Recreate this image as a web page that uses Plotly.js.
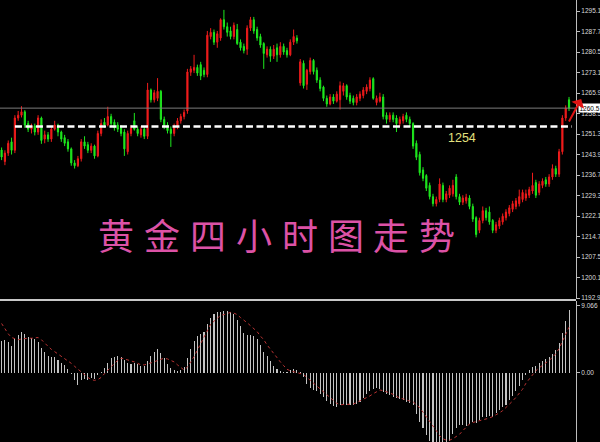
<!DOCTYPE html>
<html>
<head>
<meta charset="utf-8">
<script src="https://cdn.plot.ly/plotly-3.0.1.min.js"></script>
<style>html,body{margin:0;padding:0;background:#000;}#chart{width:600px;height:442px;}</style>
</head>
<body>
<div id="chart"></div>
<script>
// ---- Gold 4H candles ----
const opens = [
1245.6,1241.5,1244.5,1248.5,1245.5,1257.0,1258.0,1259.2,1255.0,1253.0,
1254.2,1252.0,1257.0,1249.5,1251.0,1249.5,1253.0,1254.5,1252.0,1250.0,
1248.5,1246.0,1241.0,1240.0,1242.5,1248.5,1247.5,1245.5,1247.0,1243.5,
1251.5,1255.5,1254.5,1257.5,1255.5,1254.5,1253.5,1252.0,1245.0,1251.5,
1256.0,1253.0,1251.0,1253.0,1250.5,1267.0,1263.5,1264.0,1266.5,1256.5,
1254.5,1253.0,1251.5,1254.0,1256.0,1257.5,1259.5,1273.3,1274.0,1275.0,
1276.0,1274.0,1272.5,1286.0,1287.5,1284.0,1285.5,1292.0,1289.5,1288.0,
1286.0,1288.5,1284.0,1282.5,1281.5,1289.0,1292.0,1288.5,1286.0,1283.5,
1279.5,1281.5,1279.0,1282.0,1279.5,1282.5,1281.0,1279.5,1284.0,1285.5,
1269.5,1276.5,1269.0,1273.5,1277.5,1274.0,1270.5,1268.0,1264.0,1262.0,
1264.5,1263.0,1263.5,1266.5,1268.5,1265.0,1264.0,1262.5,1264.0,1265.0,
1266.5,1267.5,1271.0,1262.5,1263.0,1264.5,1258.0,1256.5,1258.0,1257.0,
1255.0,1256.0,1258.0,1256.5,1255.0,1248.0,1244.0,1238.5,1236.5,1233.0,
1229.0,1226.5,1228.0,1233.0,1228.0,1229.5,1230.0,1236.0,1229.0,1227.0,
1227.5,1228.5,1225.5,1221.5,1217.0,1220.5,1224.0,1223.5,1220.5,1217.0,
1218.5,1220.0,1221.5,1223.0,1224.5,1225.5,1226.5,1228.0,1228.5,1229.5,
1231.0,1234.0,1230.5,1233.0,1235.0,1233.5,1236.0,1239.0,1237.0,1245.0,1257.0,1263.5
];
const highs = [
1246.5,1245.5,1249.0,1250.0,1258.0,1259.5,1261.2,1259.8,1256.0,1255.0,
1255.0,1258.0,1257.5,1252.5,1252.0,1254.0,1256.0,1255.0,1252.5,1251.0,
1249.5,1246.5,1242.0,1243.5,1249.5,1250.5,1248.5,1248.0,1247.5,1252.5,
1256.5,1257.0,1261.0,1258.5,1256.5,1255.5,1254.5,1253.0,1252.5,1254.5,
1258.8,1254.0,1254.0,1254.0,1269.5,1267.5,1267.0,1271.2,1267.0,1257.5,
1255.5,1254.0,1255.0,1257.0,1258.5,1260.0,1274.5,1275.5,1279.5,1276.0,
1277.0,1275.0,1288.0,1289.0,1288.5,1288.0,1292.5,1295.5,1291.0,1289.5,
1291.0,1290.5,1285.0,1283.5,1290.0,1293.0,1293.0,1289.5,1287.0,1284.0,
1282.5,1282.5,1283.0,1283.5,1284.0,1283.5,1282.0,1285.0,1288.5,1286.5,
1278.0,1277.5,1274.5,1278.5,1278.0,1275.0,1271.5,1268.5,1265.0,1265.5,
1265.5,1266.5,1270.0,1269.5,1269.0,1266.0,1265.0,1265.5,1266.5,1268.0,
1269.0,1271.5,1271.5,1265.0,1266.0,1265.5,1259.0,1259.0,1259.0,1258.0,
1257.5,1258.5,1259.0,1257.5,1255.5,1249.0,1245.0,1239.5,1237.0,1234.0,
1230.0,1229.0,1235.5,1234.0,1231.0,1233.0,1235.0,1237.0,1230.0,1229.5,
1230.0,1229.5,1226.5,1222.0,1221.5,1225.5,1225.0,1225.5,1221.0,1220.0,
1221.5,1223.0,1224.5,1226.0,1227.5,1228.5,1231.5,1231.5,1231.5,1232.5,
1237.5,1235.0,1234.5,1235.5,1236.0,1237.0,1240.5,1240.0,1246.0,1258.0,1261.5,1264.5
];
const lows = [
1242.0,1240.2,1243.5,1244.0,1244.5,1256.0,1257.2,1253.5,1252.0,1251.5,
1250.8,1251.0,1247.8,1248.0,1248.5,1248.5,1252.5,1250.5,1248.5,1247.0,
1245.0,1240.0,1239.0,1239.5,1241.5,1246.0,1244.5,1244.5,1242.5,1243.0,
1250.5,1253.5,1254.0,1254.0,1252.5,1252.0,1250.5,1243.5,1244.0,1250.5,
1252.5,1250.5,1250.0,1249.5,1249.5,1262.5,1262.5,1263.0,1255.5,1253.0,
1251.5,1246.7,1250.5,1253.0,1255.0,1256.5,1258.5,1272.0,1273.0,1272.0,
1270.5,1271.5,1271.5,1285.0,1283.0,1282.0,1284.5,1288.5,1286.0,1285.0,
1285.0,1283.0,1281.0,1280.0,1279.5,1288.0,1287.0,1284.5,1282.0,1274.5,
1278.5,1277.0,1278.0,1277.0,1278.5,1279.5,1278.5,1279.0,1283.0,1283.5,
1268.5,1267.5,1267.0,1272.5,1272.5,1269.5,1266.5,1263.0,1261.0,1261.5,
1262.0,1262.5,1260.0,1265.0,1263.5,1262.0,1261.5,1261.5,1263.0,1264.0,
1265.5,1266.5,1263.5,1261.5,1262.5,1256.5,1255.0,1255.5,1255.5,1252.0,
1254.0,1255.0,1255.5,1254.0,1246.0,1242.0,1236.5,1234.5,1231.0,1228.0,
1225.5,1225.5,1227.0,1227.0,1227.0,1228.5,1229.0,1228.0,1226.0,1226.0,
1226.5,1224.5,1220.0,1214.5,1216.0,1219.5,1220.5,1219.0,1216.0,1216.0,
1217.5,1219.0,1220.5,1222.0,1223.5,1224.5,1225.5,1227.0,1227.5,1228.5,
1230.0,1228.5,1229.5,1232.0,1232.5,1232.5,1235.0,1236.0,1236.0,1244.0,1256.0,1259.5
];
const closes = [
1243.1,1244.5,1248.0,1245.5,1257.0,1258.0,1259.2,1254.5,1253.0,1254.2,
1252.0,1257.0,1249.0,1251.0,1249.5,1253.0,1254.5,1252.0,1249.5,1248.0,
1246.0,1241.0,1240.0,1242.5,1248.5,1247.0,1245.5,1247.0,1243.5,1251.5,
1255.0,1254.5,1257.5,1255.0,1253.5,1253.0,1251.5,1246.0,1251.5,1253.5,
1253.0,1251.5,1253.0,1250.5,1267.0,1263.5,1266.0,1266.5,1256.5,1254.0,
1252.5,1251.5,1254.0,1256.0,1257.5,1259.0,1273.4,1274.5,1275.0,1273.0,
1272.0,1272.5,1286.5,1287.5,1284.0,1287.0,1292.0,1289.5,1287.5,1286.0,
1290.0,1283.5,1282.0,1281.0,1289.0,1292.0,1288.0,1285.5,1283.0,1280.0,
1281.5,1279.0,1281.5,1279.5,1282.5,1280.5,1279.5,1284.0,1286.0,1284.5,
1277.0,1268.5,1274.0,1277.5,1273.5,1270.5,1267.5,1264.0,1262.0,1264.5,
1263.0,1265.5,1268.5,1268.5,1264.5,1263.0,1262.5,1264.5,1265.5,1267.0,
1268.0,1270.5,1264.0,1264.0,1264.5,1257.5,1256.5,1258.0,1256.5,1255.0,
1256.5,1257.5,1256.5,1255.0,1247.0,1243.0,1237.5,1235.5,1232.0,1229.0,
1226.5,1228.0,1233.5,1228.0,1230.0,1232.0,1233.0,1229.0,1227.0,1228.5,
1228.8,1225.5,1221.0,1215.5,1220.5,1224.0,1221.5,1220.0,1217.0,1219.0,
1220.5,1222.0,1223.5,1225.0,1226.5,1227.5,1229.0,1230.5,1230.0,1231.5,
1233.0,1229.5,1233.5,1234.5,1233.5,1236.0,1239.0,1237.0,1245.0,1257.0,1260.5,1260.5
];
// ---- MACD histogram and signal line ----
const macdHist = [
4.3,4.4,4.2,3.6,4.8,5.2,5.6,5.3,4.9,4.7,
4.6,4.2,3.4,2.8,2.3,2.2,2.2,1.8,1.4,1.1,
0.6,-0.2,-0.9,-1.6,-1.0,-0.8,-0.9,-0.7,-0.8,-0.3,
0.2,0.7,1.4,2.0,2.2,2.3,2.1,1.7,1.4,1.2,
1.3,1.2,1.0,0.9,1.6,2.3,2.9,3.3,2.7,2.0,
1.2,0.7,0.4,0.3,0.4,0.8,2.0,3.2,4.3,5.0,
5.3,5.5,6.6,7.5,8.0,8.2,8.3,8.4,8.4,8.2,
8.0,7.2,6.3,5.4,5.2,5.2,5.0,4.6,3.8,2.8,
2.3,1.6,1.0,0.5,0.3,0.2,0.2,0.4,0.5,0.4,
0.1,-0.6,-1.5,-2.0,-2.3,-2.5,-2.9,-3.3,-3.8,-4.2,
-4.5,-4.6,-4.4,-4.3,-4.3,-4.4,-4.3,-4.2,-3.9,-3.4,
-2.9,-2.5,-2.1,-2.0,-2.2,-2.6,-2.9,-3.0,-3.2,-3.4,
-3.5,-3.6,-3.9,-4.1,-4.3,-5.5,-6.6,-7.5,-8.4,-9.2,
-10.0,-10.4,-10.5,-10.3,-9.6,-9.2,-8.3,-7.4,-7.1,-7.0,
-7.2,-6.9,-6.6,-6.8,-6.4,-6.0,-6.0,-5.8,-5.9,-5.4,
-5.0,-4.6,-4.3,-3.7,-3.1,-2.4,-1.7,-1.0,-0.3,0.4,
0.8,1.0,1.3,1.6,1.9,2.2,2.6,3.1,4.0,5.4,7.0,8.5
];
const macdSignal = [
6.7,6.0,5.3,4.8,4.6,4.5,4.6,4.7,4.7,4.7,
4.8,4.8,4.5,4.0,3.6,3.2,2.9,2.6,2.3,2.0,
1.7,1.3,0.9,0.5,0.1,-0.3,-0.6,-0.9,-1.0,-0.9,
-0.6,-0.1,0.4,0.9,1.3,1.7,2.0,1.9,1.8,1.6,
1.5,1.3,1.1,1.1,1.2,1.3,1.5,1.7,1.9,2.0,
1.9,1.7,1.5,1.1,0.7,0.4,0.8,1.5,2.2,3.1,
4.0,4.9,5.8,6.6,7.0,7.4,7.8,7.9,8.1,8.2,
8.1,7.9,7.5,7.2,6.8,6.4,6.0,5.6,5.0,4.5,
3.8,3.2,2.6,2.1,1.5,1.0,0.5,0.3,0.2,0.1,
0.0,-0.2,-0.6,-1.0,-1.4,-1.8,-2.2,-2.6,-3.0,-3.4,
-3.8,-4.1,-4.3,-4.3,-4.3,-4.3,-4.2,-4.0,-3.8,-3.6,
-3.3,-3.1,-2.8,-2.5,-2.3,-2.4,-2.5,-2.7,-2.9,-3.2,
-3.4,-3.5,-3.7,-3.8,-3.9,-4.3,-4.7,-5.3,-5.9,-6.5,
-7.2,-7.8,-8.5,-8.9,-9.1,-9.1,-8.9,-8.6,-8.3,-7.8,
-7.3,-6.9,-6.7,-6.6,-6.5,-6.4,-6.3,-6.1,-5.9,-5.7,
-5.4,-5.1,-4.7,-4.3,-3.8,-3.3,-2.8,-2.2,-1.4,-0.8,
-0.2,0.3,0.7,1.0,1.4,1.7,2.1,2.6,3.3,4.2,5.2,6.2
];
// ---- axis ticks and marked levels ----
const priceTicks = [1295.10,1287.70,1280.50,1273.10,1265.90,1258.50,1251.30,1243.90,1236.70,1229.30,1222.10,1214.70,1207.50,1200.10,1192.90];
const macdTicks = [9.066, 0];
const macdTickText = ['9.066', '0.00'];
const lastPrice = 1260.51;
const keyLevel = 1254;
const titleChars = ['黄','金','四','小','时','图','走','势'];

const bars = opens.map((_, i) => i);

const traces = [
  {
    type: 'candlestick', x: bars, open: opens, high: highs, low: lows, close: closes,
    xaxis: 'x', yaxis: 'y', hoverinfo: 'skip', whiskerwidth: 0,
    increasing: {line: {color: '#f01c1c', width: 1}, fillcolor: '#f01c1c'},
    decreasing: {line: {color: '#1ee81e', width: 1}, fillcolor: '#1ee81e'}
  },
  {
    type: 'bar', x: bars, y: macdHist, xaxis: 'x', yaxis: 'y2', width: 0.32,
    marker: {color: '#c4c4c4', line: {width: 0}}, hoverinfo: 'skip'
  },
  {
    type: 'scatter', mode: 'lines', x: bars, y: macdSignal, xaxis: 'x', yaxis: 'y2',
    line: {color: '#b83232', width: 1, dash: 'dot'}, hoverinfo: 'skip'
  }
];

const tickFont = {family: 'Liberation Sans, Arial, sans-serif', size: 6.5, color: '#dadada'};

const annotations = [
  {xref: 'paper', yref: 'y', x: 0.830, y: 1249.9, text: String(keyLevel), showarrow: false,
   font: {family: 'Liberation Sans, Arial, sans-serif', size: 12.5, color: '#e2e07e'}},
  {xref: 'paper', yref: 'y', x: 1.0035, y: lastPrice, xanchor: 'left', yanchor: 'middle',
   text: lastPrice.toFixed(2), showarrow: false, bgcolor: '#ffffff', borderpad: 0.5,
   font: {family: 'Liberation Sans, Arial, sans-serif', size: 6.5, color: '#000000'}},
  {xref: 'paper', yref: 'y', x: 1.009, y: 1263.8, text: '', showarrow: true,
   ax: -13, ay: 24, arrowhead: 1, arrowsize: 1.2, arrowwidth: 2, arrowcolor: '#e01414'}
];
titleChars.forEach((ch, k) => {
  annotations.push({
    xref: 'paper', yref: 'paper', x: (116 + k * 45.9) / 576, y: 1 - 234 / 442,
    text: ch, showarrow: false, xanchor: 'center', yanchor: 'middle',
    font: {family: 'Noto Sans CJK SC, sans-serif', size: 36, color: '#dc52a6'}
  });
});

const layout = {
  width: 600, height: 442,
  paper_bgcolor: '#000000', plot_bgcolor: '#000000',
  margin: {l: 0, r: 24, t: 0, b: 0, pad: 0},
  showlegend: false,
  boxgap: 0.5,
  bargap: 0,
  xaxis: {range: [-0.48, 173.1], visible: false, anchor: 'y2', fixedrange: true,
          rangeslider: {visible: false}},
  yaxis: {domain: [0.3235, 1], range: [1192.54, 1299.02], side: 'right',
          showgrid: false, zeroline: false, showline: true, linecolor: '#bdbdbd', linewidth: 1,
          ticks: 'outside', ticklen: 3, tickcolor: '#bdbdbd', tickwidth: 1,
          tickvals: priceTicks, ticktext: priceTicks.map(v => v.toFixed(2)), tickfont: tickFont},
  yaxis2: {domain: [0, 0.319], range: [-9.34, 9.74], side: 'right',
           showgrid: false, zeroline: false, showline: true, linecolor: '#bdbdbd', linewidth: 1,
           ticks: 'outside', ticklen: 3, tickcolor: '#bdbdbd', tickwidth: 1,
           tickvals: macdTicks, ticktext: macdTickText, tickfont: tickFont},
  shapes: [
    {type: 'line', xref: 'paper', yref: 'y', x0: 0, x1: 1, y0: lastPrice, y1: lastPrice,
     line: {color: '#7c7c7c', width: 1}},
    {type: 'line', xref: 'paper', yref: 'y', x0: 0.026, x1: 0.993, y0: keyLevel, y1: keyLevel,
     line: {color: '#ffffff', width: 2.5, dash: '7px,3.5px'}},
    {type: 'line', xref: 'paper', yref: 'paper', x0: 0, x1: 1, y0: 1 - 300 / 442, y1: 1 - 300 / 442,
     line: {color: '#c8c8c8', width: 2}}
  ],
  annotations: annotations
};

Plotly.newPlot('chart', traces, layout, {staticPlot: true, displayModeBar: false});
</script>
</body>
</html>
